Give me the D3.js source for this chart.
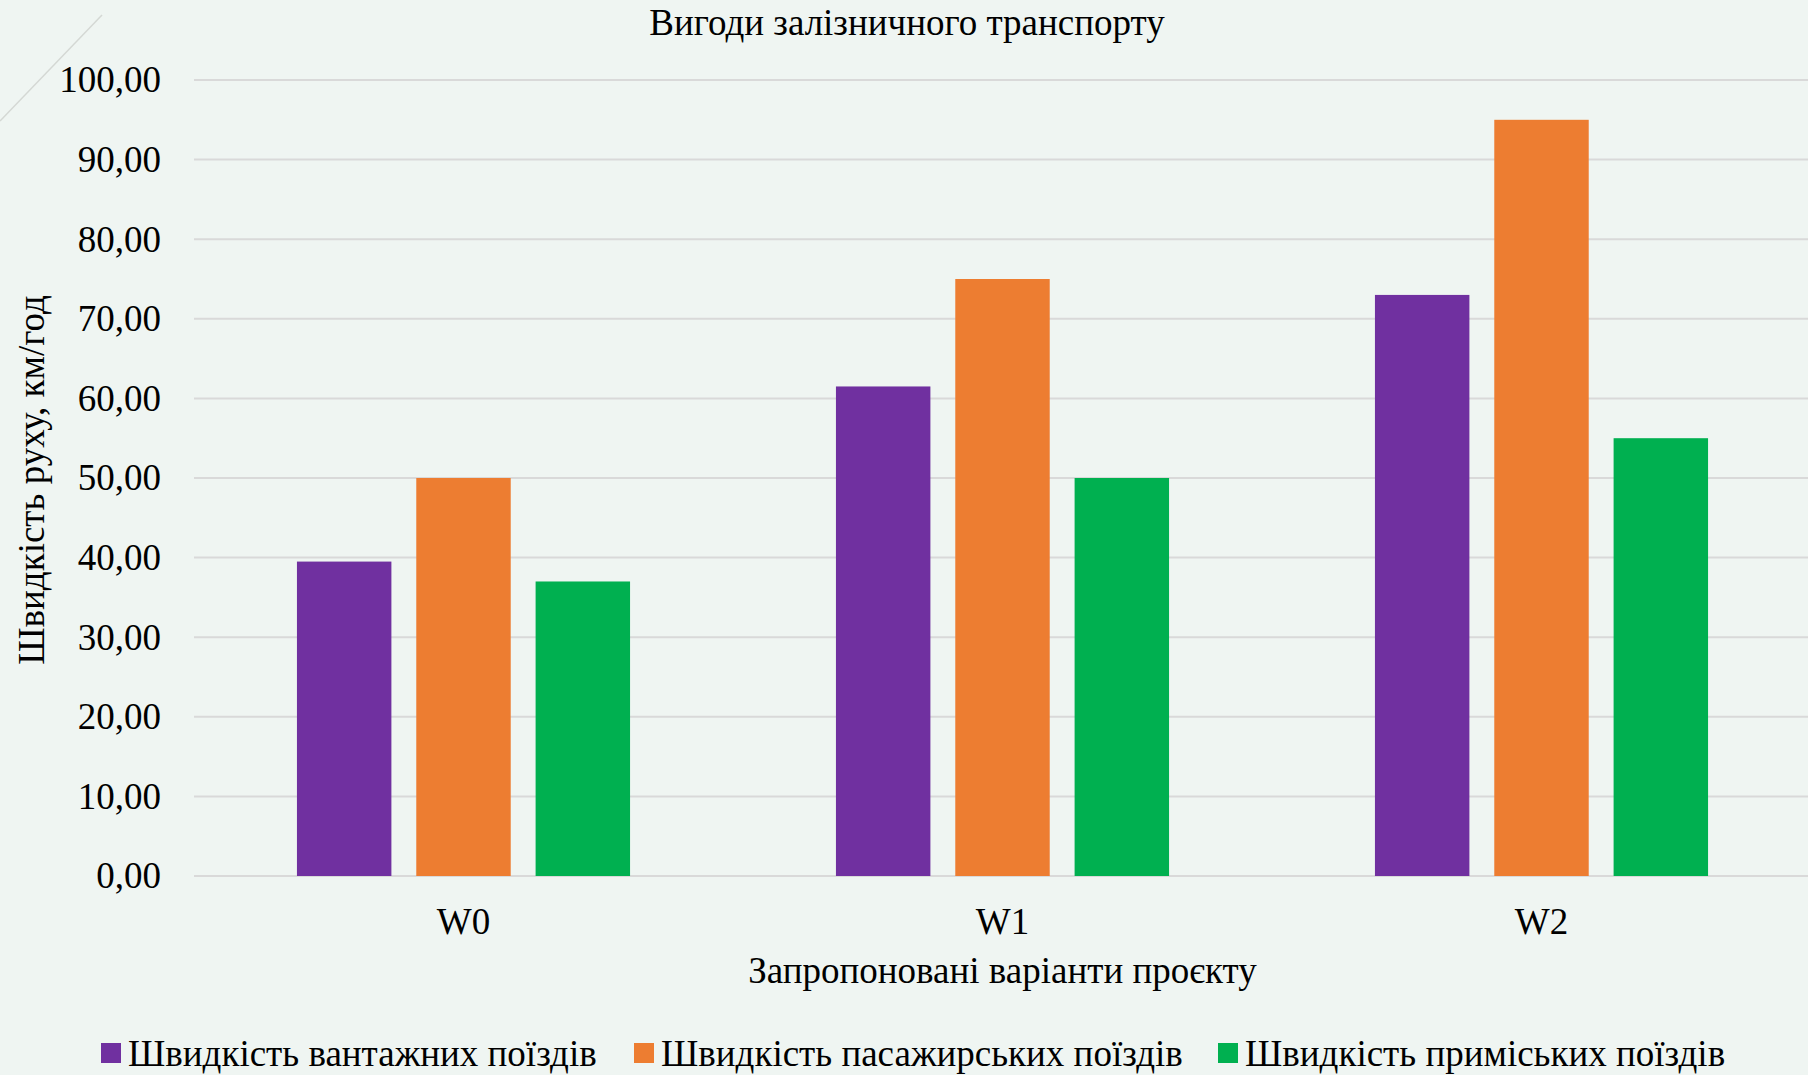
<!DOCTYPE html>
<html>
<head>
<meta charset="utf-8">
<script src="https://cdn.jsdelivr.net/npm/d3@7"></script>
<style>
  html, body { margin: 0; padding: 0; background: #eff5f2; }
  svg { display: block; }
</style>
</head>
<body>
<div id="chart"></div>
<script>
const categories = ["W0", "W1", "W2"];
const seriesNames = ["Швидкість вантажних поїздів", "Швидкість пасажирських поїздів", "Швидкість приміських поїздів"];
const freight = [39.5, 61.5, 73];
const passenger = [50, 75, 95];
const suburban = [37, 50, 55];
const yTicks = [0, 10, 20, 30, 40, 50, 60, 70, 80, 90, 100];
const colors = ["#7030a0", "#ed7d31", "#00b050"];

const width = 1808, height = 1075;
const margin = {top: 80, right: -3, bottom: 199, left: 194};
const font = "'Liberation Serif', 'Times New Roman', serif";

const svg = d3.select("#chart").append("svg")
    .attr("width", width)
    .attr("height", height)
    .style("font-family", font);

svg.append("rect").attr("width", width).attr("height", height).attr("fill", "#eff5f2");

// faint corner line, top left
svg.append("line")
    .attr("x1", 0).attr("y1", 121).attr("x2", 102).attr("y2", 15)
    .attr("stroke", "#d4d8d4").attr("stroke-width", 1.5);

const x0 = d3.scaleBand(categories, [margin.left, width - margin.right]);
const groupW = x0.bandwidth() * 0.618;
const x1 = d3.scaleBand(seriesNames, [0, groupW]).paddingInner(0.2085);
const y = d3.scaleLinear([0, 100], [height - margin.bottom, margin.top]);

// gridlines
svg.append("g")
    .selectAll("line")
    .data(yTicks)
    .join("line")
      .attr("x1", margin.left)
      .attr("x2", width)
      .attr("y1", d => y(d))
      .attr("y2", d => y(d))
      .attr("stroke", "#d9d9d9")
      .attr("stroke-width", 2);

// y axis labels
svg.append("g")
    .attr("transform", `translate(${margin.left},0)`)
    .call(d3.axisLeft(y).tickValues(yTicks).tickSize(0).tickPadding(33)
        .tickFormat(d => d3.format(".2f")(d).replace(".", ",")))
    .call(g => g.select(".domain").remove())
    .call(g => g.selectAll("text")
        .attr("fill", "#000")
        .style("font-family", font)
        .style("font-size", "37px"));

// bars
const table = categories.map((c, i) => ({cat: c, values: [freight[i], passenger[i], suburban[i]]}));
svg.append("g")
    .selectAll("g")
    .data(table)
    .join("g")
      .attr("transform", d => `translate(${x0(d.cat) + (x0.bandwidth() - groupW) / 2},0)`)
    .selectAll("rect")
    .data(d => d.values.map((v, j) => ({name: seriesNames[j], value: v, color: colors[j]})))
    .join("rect")
      .attr("x", d => x1(d.name))
      .attr("width", x1.bandwidth())
      .attr("y", d => y(d.value))
      .attr("height", d => y(0) - y(d.value))
      .attr("fill", d => d.color);

// x axis labels
svg.append("g")
    .attr("transform", `translate(0,${height - margin.bottom})`)
    .call(d3.axisBottom(x0).tickSize(0).tickPadding(32))
    .call(g => g.select(".domain").remove())
    .call(g => g.selectAll("text")
        .attr("fill", "#000")
        .style("font-family", font)
        .style("font-size", "37px"));

// title
svg.append("text")
    .attr("x", 907).attr("y", 35)
    .attr("text-anchor", "middle")
    .style("font-size", "37px")
    .text("Вигоди залізничного транспорту");

// axis titles
svg.append("text")
    .attr("x", (margin.left + width - margin.right) / 2).attr("y", 983)
    .attr("text-anchor", "middle")
    .style("font-size", "37px")
    .text("Запропоновані варіанти проєкту");

svg.append("text")
    .attr("transform", `translate(44,${(y(0) + y(100)) / 2 + 2}) rotate(-90)`)
    .attr("text-anchor", "middle")
    .style("font-size", "37px")
    .text("Швидкість руху, км/год");

// legend
const legendX = [101, 634, 1218];
const legend = svg.append("g")
    .selectAll("g")
    .data(seriesNames)
    .join("g")
      .attr("transform", (d, i) => `translate(${legendX[i]},1053)`);
legend.append("rect")
    .attr("x", 0).attr("y", -10)
    .attr("width", 20).attr("height", 20)
    .attr("fill", (d, i) => colors[i]);
legend.append("text")
    .attr("x", 27).attr("y", 13)
    .style("font-size", "37px")
    .text(d => d);
</script>
</body>
</html>
